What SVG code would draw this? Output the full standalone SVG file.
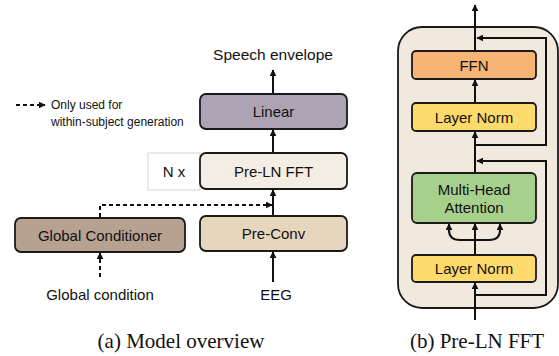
<svg xmlns="http://www.w3.org/2000/svg" width="559" height="356" viewBox="0 0 559 356">
<defs>
<marker id="ah" viewBox="0 0 10 10" refX="9" refY="5" markerWidth="7" markerHeight="7" markerUnits="userSpaceOnUse" orient="auto">
<path d="M0,0 L10,5 L0,10 z" fill="#111"/>
</marker>
</defs>
<style>
.box{stroke:#1a1a1a;stroke-width:1.8}
.t{font-family:"Liberation Sans",Arial,sans-serif;font-size:15px;fill:#111;text-anchor:middle}
.s{font-family:"Liberation Sans",Arial,sans-serif;font-size:12px;fill:#111}
.cap{font-family:"Liberation Serif","Times New Roman",serif;font-size:21px;fill:#111;text-anchor:middle}
.ln{stroke:#111;stroke-width:2;fill:none}
.dash{stroke:#111;stroke-width:2;fill:none;stroke-dasharray:4,3}
</style>
<rect width="559" height="356" fill="#fff"/>

<g id="panel-b-frame">
<rect x="398" y="27" width="160" height="281" rx="24" fill="#f1e9dd" stroke="#1a1a1a" stroke-width="1.8"/>
</g>

<g id="connectors">
<line class="ln" x1="273" y1="94" x2="273" y2="70" marker-end="url(#ah)"/>
<line class="ln" x1="273" y1="153" x2="273" y2="130" marker-end="url(#ah)"/>
<line class="ln" x1="273" y1="216" x2="273" y2="190" marker-end="url(#ah)"/>
<line class="ln" x1="273" y1="282" x2="273" y2="252" marker-end="url(#ah)"/>
<polyline class="dash" points="100,217 100,205 272,205" marker-end="url(#ah)"/>
<line class="dash" x1="100" y1="277" x2="100" y2="253" marker-end="url(#ah)"/>
<line class="dash" x1="16" y1="105" x2="45" y2="105" marker-end="url(#ah)"/>
<line class="ln" x1="475" y1="320" x2="475" y2="283" marker-end="url(#ah)"/>
<line class="ln" x1="475" y1="255" x2="475" y2="224" marker-end="url(#ah)"/>
<path class="ln" d="M449,224 L449,230 Q449,240 460,240 L489,240 Q500,240 500,230 L500,224"/>
<line class="ln" x1="449" y1="232" x2="449" y2="224" marker-end="url(#ah)"/>
<line class="ln" x1="500" y1="232" x2="500" y2="224" marker-end="url(#ah)"/>
<line class="ln" x1="475" y1="173" x2="475" y2="132" marker-end="url(#ah)"/>
<line class="ln" x1="475" y1="103" x2="475" y2="80" marker-end="url(#ah)"/>
<line class="ln" x1="475" y1="51" x2="475" y2="5" marker-end="url(#ah)"/>
<polyline class="ln" points="475,295 546,295 546,161 477,161" marker-end="url(#ah)"/>
<polyline class="ln" points="475,145 546,145 546,38 477,38" marker-end="url(#ah)"/>
</g>

<g id="legend">
<text class="s" x="51" y="109">Only used for</text>
<text class="s" x="51" y="126">within-subject generation</text>
</g>

<g id="speech-envelope"><text class="t" x="273" y="60" style="font-size:15.5px">Speech envelope</text></g>

<g id="linear">
<rect class="box" x="200" y="94" width="147" height="35" rx="6" fill="#aca4b4"/>
<text class="t" x="273.5" y="117">Linear</text>
</g>

<g id="nx">
<rect x="148" y="153" width="52" height="37" fill="#fff" stroke="#d4d4d4" stroke-width="1"/>
<text class="t" x="174" y="177">N x</text>
</g>

<g id="pre-ln-fft">
<rect class="box" x="200" y="153" width="147" height="36" rx="6" fill="#f3ede3"/>
<text class="t" x="273.5" y="177">Pre-LN FFT</text>
</g>

<g id="pre-conv">
<rect class="box" x="200" y="216" width="147" height="35" rx="6" fill="#e5d6bd"/>
<text class="t" x="273.5" y="239">Pre-Conv</text>
</g>

<g id="global-conditioner">
<rect class="box" x="15" y="218" width="170" height="34" rx="6" fill="#b7a292"/>
<text class="t" x="100" y="241">Global Conditioner</text>
</g>

<g id="global-condition"><text class="t" x="100" y="300">Global condition</text></g>
<g id="eeg"><text class="t" x="276" y="300">EEG</text></g>

<g id="ffn">
<rect class="box" x="412" y="51" width="124" height="28" rx="4" fill="#f6b475"/>
<text class="t" x="474" y="71">FFN</text>
</g>

<g id="layer-norm-top">
<rect class="box" x="412" y="103" width="124" height="28" rx="4" fill="#fed96b"/>
<text class="t" x="474" y="123">Layer Norm</text>
</g>

<g id="mha">
<rect class="box" x="412" y="173" width="124" height="50" rx="5" fill="#a8d08d"/>
<text class="t" x="474" y="195">Multi-Head</text>
<text class="t" x="474" y="213">Attention</text>
</g>

<g id="layer-norm-bottom">
<rect class="box" x="412" y="255" width="124" height="27" rx="4" fill="#fed96b"/>
<text class="t" x="474" y="274">Layer Norm</text>
</g>

<g id="captions">
<text class="cap" x="181" y="348">(a) Model overview</text>
<text class="cap" x="477" y="348">(b) Pre-LN FFT</text>
</g>
</svg>
